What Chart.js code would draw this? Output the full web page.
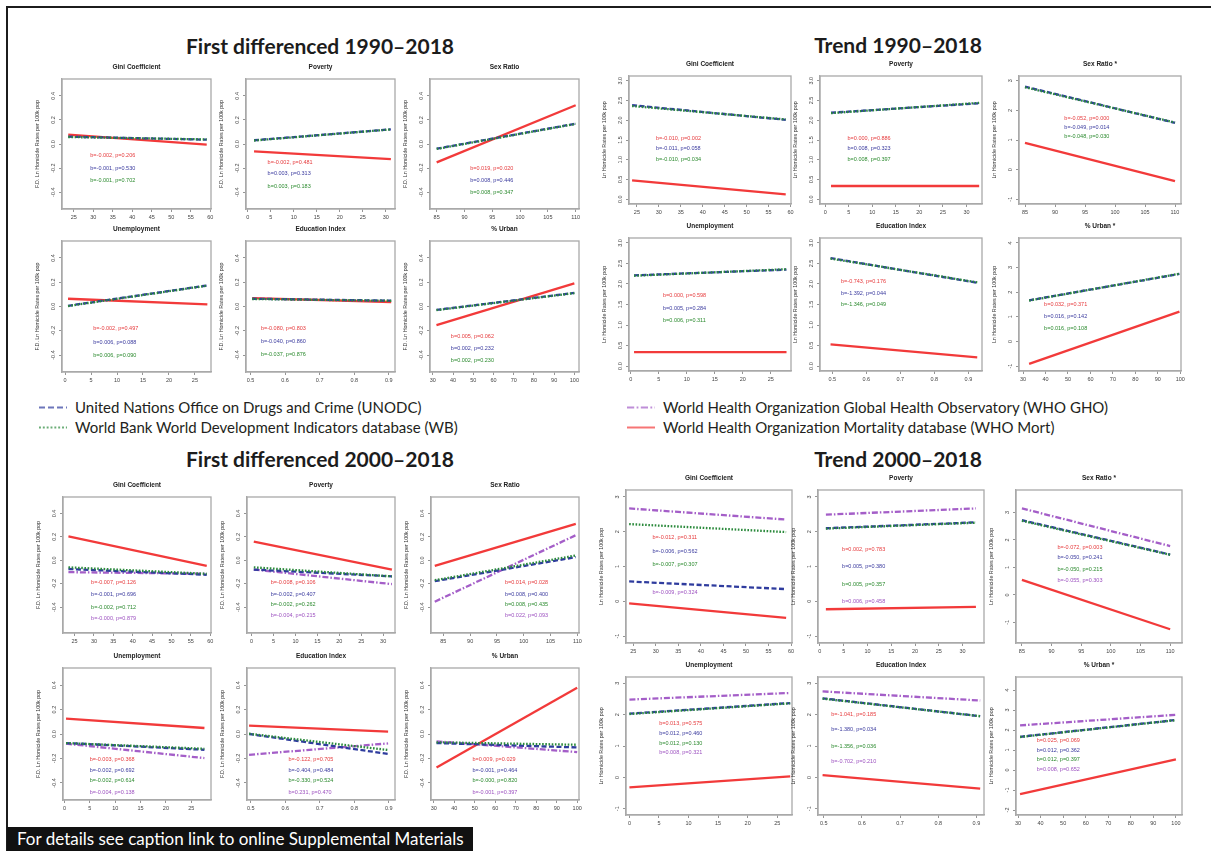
<!DOCTYPE html>
<html>
<head>
<meta charset="utf-8">
<title>Homicide rates and structural indicators</title>
<script src="https://cdn.jsdelivr.net/npm/chart.js@4.4.1/dist/chart.umd.min.js"></script>
<style>
  html, body { margin: 0; padding: 0; background: #fff; }
  #page { position: relative; width: 1211px; height: 851px; overflow: hidden; background: #fff;
          font-family: Lato, 'Open Sans', sans-serif; color: #231f20; }
  .rule { position: absolute; background: #1c1c1c; }
  .qtitle { position: absolute; font-weight: 700; font-size: 21px; white-space: nowrap;
            transform: translate(-50%, -50%); color: #1c1c1c; }
  .leg { position: absolute; font-size: 15px; white-space: nowrap; line-height: 18px; }
  .leg svg { position: absolute; top: 0; }
  canvas.panel { position: absolute; }
  .footer { position: absolute; left: 7px; top: 827px; width: 466px; height: 24px; background: #111;
            color: #fff; font-size: 17px; line-height: 24px; padding-left: 10px; box-sizing: border-box;
            white-space: nowrap; }
</style>
</head>
<body>
<div id="page">
  <div class="rule" style="left:6px;top:6px;width:1205px;height:2px"></div>
  <div class="rule" style="left:6px;top:6px;width:2px;height:845px"></div>
  <div class="footer">For details see caption link to online Supplemental Materials</div>
</div>
<script>
// ---------------------------------------------------------------
// Names and labels
// ---------------------------------------------------------------
const blockTitles = ['First differenced 1990\u20132018', 'Trend 1990\u20132018',
                     'First differenced 2000\u20132018', 'Trend 2000\u20132018'];
const fdTitles    = ['Gini Coefficient', 'Poverty', 'Sex Ratio', 'Unemployment', 'Education Index', '% Urban'];
const trendTitles = ['Gini Coefficient', 'Poverty', 'Sex Ratio *', 'Unemployment', 'Education Index', '% Urban *'];
const fdYTitle    = 'F.D. Ln Homicide Rates per 100k pop';
const trendYTitle = 'Ln Homicide Rates per 100k pop';
const sourceLabels = ['United Nations Office on Drugs and Crime (UNODC)',
                      'World Bank World Development Indicators database (WB)',
                      'World Health Organization Global Health Observatory (WHO GHO)',
                      'World Health Organization Mortality database (WHO Mort)'];

// x-axis tick labels, one set per indicator
const giniTicks         = [25, 30, 35, 40, 45, 50, 55, 60];
const povertyTicks      = [0, 5, 10, 15, 20, 25, 30];
const sexRatioTicks     = [85, 90, 95, 100, 105, 110];
const unemploymentTicks = [0, 5, 10, 15, 20, 25];
const educationTicks    = [0.5, 0.6, 0.7, 0.8, 0.9];
const urbanTicks        = [30, 40, 50, 60, 70, 80, 90, 100];

// y-axis tick labels
const fdYTicks   = [-0.4, -0.2, 0, 0.2, 0.4];
const fdYLabels  = ['-0.4', '-0.2', '0.0', '0.2', '0.4'];
const lnYTicks   = [0, 0.5, 1, 1.5, 2, 2.5, 3];
const lnYLabels  = ['0.0', '0.5', '1.0', '1.5', '2.0', '2.5', '3.0'];
const intYTicksA = [-1, 0, 1, 2, 3];
const intYTicksB = [-1, 0, 1, 2, 3, 4];
const intYTicksC = [-2, -1, 0, 1, 2, 3, 4];

// ---------------------------------------------------------------
// Fitted lines: [value at start of x span, value at end of x span]
// ---------------------------------------------------------------
// First differenced 1990–2018
const fd90Span  = [[23.6, 59.1], [1.35, 31.1], [85, 110], [0.56, 27.4], [0.505, 0.907], [31.8, 100]];
const fd90Mort  = [[0.078, -0.006], [-0.061, -0.125], [-0.153, 0.322], [0.064, 0.017], [0.069, 0.037], [-0.154, 0.190]];
const fd90Unodc = [[0.061, 0.036], [0.031, 0.122], [-0.039, 0.169], [0.006, 0.174], [0.064, 0.048], [-0.028, 0.112]];
const fd90Wb    = [[0.058, 0.038], [0.029, 0.121], [-0.041, 0.167], [0.004, 0.172], [0.062, 0.047], [-0.030, 0.110]];
const fd90MortNotes  = ['b=-0.002, p=0.206', 'b=-0.002, p=0.481', 'b=0.019, p=0.020', 'b=-0.002, p=0.497', 'b=-0.080, p=0.803', 'b=0.005, p=0.062'];
const fd90UnodcNotes = ['b=-0.001, p=0.530', 'b=0.003, p=0.313', 'b=0.008, p=0.446', 'b=0.006, p=0.088', 'b=-0.040, p=0.860', 'b=0.002, p=0.232'];
const fd90WbNotes    = ['b=-0.001, p=0.702', 'b=0.003, p=0.183', 'b=0.008, p=0.347', 'b=0.006, p=0.090', 'b=-0.037, p=0.876', 'b=0.002, p=0.230'];

// Trend 1990–2018
const tr90Span  = [[23.9, 58.9], [1.24, 32.7], [85, 110], [0.6, 27.8], [0.495, 0.926], [32.7, 99.6]];
const tr90Mort  = [[0.48, 0.125], [0.335, 0.335], [0.90, -0.39], [0.34, 0.34], [0.53, 0.21], [-0.91, 1.21]];
const tr90Unodc = [[2.38, 2.01], [2.19, 2.43], [2.80, 1.58], [2.21, 2.35], [2.63, 2.03], [1.67, 2.74]];
const tr90Wb    = [[2.36, 2.02], [2.18, 2.44], [2.78, 1.59], [2.20, 2.36], [2.62, 2.04], [1.66, 2.75]];
const tr90MortNotes  = ['b=-0.010, p=0.002', 'b=0.000, p=0.886', 'b=-0.052, p=0.000', 'b=0.000, p=0.598', 'b=-0.743, p=0.176', 'b=0.032, p=0.371'];
const tr90UnodcNotes = ['b=-0.011, p=0.058', 'b=0.008, p=0.323', 'b=-0.049, p=0.014', 'b=0.005, p=0.284', 'b=-1.392, p=0.044', 'b=0.016, p=0.142'];
const tr90WbNotes    = ['b=-0.010, p=0.034', 'b=0.008, p=0.397', 'b=-0.048, p=0.030', 'b=0.006, p=0.311', 'b=-1.346, p=0.049', 'b=0.016, p=0.108'];

// First differenced 2000–2018
const fd00Span  = [[23.4, 59.1], [0.5, 32], [83.4, 109.7], [0.3, 27.6], [0.495, 0.898], [31.3, 100]];
const fd00Mort  = [[0.205, -0.047], [0.159, -0.079], [-0.047, 0.310], [0.126, 0.049], [0.068, 0.019], [-0.274, 0.378]];
const fd00Unodc = [[-0.074, -0.123], [-0.079, -0.137], [-0.178, 0.027], [-0.074, -0.129], [0.000, -0.163], [-0.074, -0.110]];
const fd00Wb    = [[-0.060, -0.115], [-0.060, -0.137], [-0.170, 0.041], [-0.074, -0.121], [0.002, -0.131], [-0.068, -0.088]];
const fd00Gho   = [[-0.101, -0.115], [-0.079, -0.203], [-0.353, 0.214], [-0.079, -0.197], [-0.170, -0.077], [-0.060, -0.148]];
const fd00MortNotes  = ['b=-0.007, p=0.126', 'b=-0.008, p=0.106', 'b=0.014, p=0.028', 'b=-0.003, p=0.368', 'b=-0.122, p=0.705', 'b=0.009, p=0.029'];
const fd00UnodcNotes = ['b=-0.001, p=0.696', 'b=-0.002, p=0.407', 'b=0.008, p=0.400', 'b=-0.002, p=0.692', 'b=-0.404, p=0.484', 'b=-0.001, p=0.464'];
const fd00WbNotes    = ['b=-0.002, p=0.712', 'b=-0.002, p=0.262', 'b=0.008, p=0.435', 'b=-0.002, p=0.614', 'b=-0.330, p=0.524', 'b=-0.000, p=0.820'];
const fd00GhoNotes   = ['b=-0.000, p=0.879', 'b=-0.004, p=0.215', 'b=0.022, p=0.093', 'b=-0.004, p=0.138', 'b=0.231, p=0.470', 'b=-0.001, p=0.397'];

// Trend 2000–2018
const tr00Span  = [[24.1, 58.9], [1.26, 32.8], [85, 110], [0, 27.2], [0.497, 0.91], [30.9, 100]];
const tr00Mort  = [[-0.06, -0.48], [-0.23, -0.16], [0.55, -1.25], [-0.32, 0.03], [0.07, -0.36], [-1.21, 0.53]];
const tr00Unodc = [[0.57, 0.35], [2.10, 2.27], [2.72, 1.47], [2.03, 2.37], [2.52, 1.95], [1.66, 2.50]];
const tr00Wb    = [[2.22, 1.99], [2.09, 2.26], [2.70, 1.46], [2.02, 2.36], [2.51, 1.95], [1.65, 2.49]];
const tr00Gho   = [[2.67, 2.35], [2.49, 2.67], [3.15, 1.78], [2.48, 2.69], [2.74, 2.45], [2.23, 2.76]];
const tr00MortNotes  = ['b=-0.012, p=0.311', 'b=0.002, p=0.783', 'b=-0.072, p=0.003', 'b=0.013, p=0.575', 'b=-1.041, p=0.185', 'b=0.025, p=0.069'];
const tr00UnodcNotes = ['b=-0.006, p=0.562', 'b=0.005, p=0.380', 'b=-0.050, p=0.241', 'b=0.012, p=0.460', 'b=-1.380, p=0.034', 'b=0.012, p=0.362'];
const tr00WbNotes    = ['b=-0.007, p=0.307', 'b=0.005, p=0.357', 'b=-0.050, p=0.215', 'b=0.012, p=0.130', 'b=-1.356, p=0.036', 'b=0.012, p=0.397'];
const tr00GhoNotes   = ['b=-0.009, p=0.324', 'b=0.006, p=0.458', 'b=-0.055, p=0.303', 'b=0.008, p=0.321', 'b=-0.702, p=0.210', 'b=0.008, p=0.652'];

// ---------------------------------------------------------------
// Axis limits (R-style padded ranges)
// ---------------------------------------------------------------
const xTickSets = [giniTicks, povertyTicks, sexRatioTicks, unemploymentTicks, educationTicks, urbanTicks];
const fd90XLim = [[22, 60.2], [-0.4, 32], [83.8, 110.6], [-0.6, 28.1], [0.487, 0.918], [28.6, 102.3]];
const tr90XLim = [[23.2, 60.1], [-1.1, 33.3], [84, 111], [-0.3, 28.6], [0.464, 0.94], [28.2, 100.3]];
const fd00XLim = [[22, 60.2], [-1.05, 32.7], [82.7, 110.3], [-0.3, 28.9], [0.489, 0.918], [28.6, 100.9]];
const tr00XLim = [[23.4, 60.2], [-0.4, 34.5], [84, 112], [-0.58, 27.5], [0.485, 0.92], [29.1, 102.7]];
const fd90YLim = [[-0.54, 0.54], [-0.54, 0.54], [-0.54, 0.54], [-0.54, 0.54], [-0.54, 0.54], [-0.54, 0.54]];
const fd00YLim = [[-0.62, 0.54], [-0.62, 0.54], [-0.62, 0.54], [-0.54, 0.54], [-0.54, 0.54], [-0.54, 0.54]];
const tr90YLim = [[-0.12, 3.12], [-0.12, 3.12], [-1.16, 3.16], [-0.12, 3.12], [-0.12, 3.12], [-1.2, 4.2]];
const tr00YLim = [[-1.2, 3.2], [-1.2, 3.2], [-1.75, 3.82], [-1.2, 3.2], [-1.2, 3.2], [-2.25, 4.65]];
const fdYTickSets   = [fdYTicks, fdYTicks, fdYTicks, fdYTicks, fdYTicks, fdYTicks];
const fdYLabelSets  = [fdYLabels, fdYLabels, fdYLabels, fdYLabels, fdYLabels, fdYLabels];
const tr90YTickSets = [lnYTicks, lnYTicks, intYTicksA, lnYTicks, lnYTicks, intYTicksB];
const tr90YLabelSets = [lnYLabels, lnYLabels, intYTicksA.map(String), lnYLabels, lnYLabels, intYTicksB.map(String)];
const tr00YTickSets = [intYTicksA, intYTicksA, intYTicksA, intYTicksA, intYTicksA, intYTicksC];
const tr00YLabelSets = tr00YTickSets.map(t => t.map(String));

// ---------------------------------------------------------------
// Styles and layout
// ---------------------------------------------------------------
const PANEL_FONT = "'Liberation Sans', Arial, sans-serif";
Chart.defaults.font.family = PANEL_FONT;

// series order: WHO Mort, UNODC, WB, WHO GHO
const seriesStyle = [
  { color: '#f23a3a', text: '#e63a3c', dash: [],             order: 3 },
  { color: '#2f3c9e', text: '#3a3a9e', dash: [5, 2.5],       order: 2 },
  { color: '#2b8a3c', text: '#2b8a2e', dash: [1.6, 1.6],     order: 1 },
  { color: '#a45ec8', text: '#9d52c0', dash: [6, 2, 1.5, 2], order: 4 }
];

// plot-box geometry of each block (left edges of the three columns, box width, rows as [top, height])
const blockLayout = [
  { cols: [62, 246, 430],   width: 149, rows: [[79, 130], [241, 131]], title: [320, 45] },
  { cols: [629, 820, 1019], width: 162, rows: [[76, 128], [238, 133]], title: [898, 44] },
  { cols: [63, 247, 431],   width: 148, rows: [[497, 136], [668, 132]], title: [320, 458] },
  { cols: [626, 818, 1016], width: 166, rows: [[490, 153], [677, 138]], title: [898, 458] }
];

// where the coefficient notes start inside each plot box (fractions of the box)
const fd90NoteX = [0.19, 0.145, 0.27, 0.21, 0.10, 0.14];
const fd90NoteY = [[.59, .69, .78], [.64, .73, .83], [.69, .78, .87], [.67, .775, .875], [.67, .77, .87], [.73, .82, .91]];
const tr90NoteX = [0.167, 0.17, 0.28, 0.21, 0.13, 0.155];
const tr90NoteY = [[.49, .57, .65], [.49, .57, .65], [.33, .40, .47], [.43, .53, .62], [.33, .42, .50], [.50, .59, .68]];
const fd00NoteX = [0.19, 0.16, 0.50, 0.18, 0.28, 0.28];
const fd00NoteY = [[.63, .72, .81, .89], [.63, .72, .79, .87], [.63, .72, .79, .87], [.69, .78, .85, .94], [.69, .78, .85, .94], [.69, .78, .85, .94]];
const tr00NoteX = [0.16, 0.145, 0.25, 0.20, 0.08, 0.125];
const tr00NoteY = [[.31, .40, .49, .67], [.39, .50, .62, .73], [.375, .44, .52, .59], [.34, .41, .48, .55], [.27, .38, .50, .61], [.46, .53, .60, .67]];

const blocks = [
  { titles: fdTitles, yTitle: fdYTitle, span: fd90Span, series: [fd90Mort, fd90Unodc, fd90Wb],
    notes: [fd90MortNotes, fd90UnodcNotes, fd90WbNotes], xLim: fd90XLim, yLim: fd90YLim,
    yTicks: fdYTickSets, yLabels: fdYLabelSets, noteX: fd90NoteX, noteY: fd90NoteY },
  { titles: trendTitles, yTitle: trendYTitle, span: tr90Span, series: [tr90Mort, tr90Unodc, tr90Wb],
    notes: [tr90MortNotes, tr90UnodcNotes, tr90WbNotes], xLim: tr90XLim, yLim: tr90YLim,
    yTicks: tr90YTickSets, yLabels: tr90YLabelSets, noteX: tr90NoteX, noteY: tr90NoteY },
  { titles: fdTitles, yTitle: fdYTitle, span: fd00Span, series: [fd00Mort, fd00Unodc, fd00Wb, fd00Gho],
    notes: [fd00MortNotes, fd00UnodcNotes, fd00WbNotes, fd00GhoNotes], xLim: fd00XLim, yLim: fd00YLim,
    yTicks: fdYTickSets, yLabels: fdYLabelSets, noteX: fd00NoteX, noteY: fd00NoteY },
  { titles: trendTitles, yTitle: trendYTitle, span: tr00Span, series: [tr00Mort, tr00Unodc, tr00Wb, tr00Gho],
    notes: [tr00MortNotes, tr00UnodcNotes, tr00WbNotes, tr00GhoNotes], xLim: tr00XLim, yLim: tr00YLim,
    yTicks: tr00YTickSets, yLabels: tr00YLabelSets, noteX: tr00NoteX, noteY: tr00NoteY }
];

// ---------------------------------------------------------------
// Plugins
// ---------------------------------------------------------------
const plotFrame = {
  id: 'plotFrame',
  beforeDatasetsDraw(chart) {
    const { ctx, chartArea: a } = chart;
    ctx.save();
    ctx.strokeStyle = '#a9a9a9';
    ctx.lineWidth = 1.3;
    ctx.strokeRect(a.left, a.top, a.right - a.left, a.bottom - a.top);
    ctx.restore();
  }
};

// y tick labels written parallel to the axis
const rotatedYLabels = {
  id: 'rotatedYLabels',
  afterDraw(chart, args, opts) {
    const { ctx, chartArea: a } = chart;
    const y = chart.scales.y;
    ctx.save();
    ctx.fillStyle = '#444';
    ctx.font = '5.5px ' + PANEL_FONT;
    ctx.textAlign = 'center';
    ctx.textBaseline = 'middle';
    opts.values.forEach((v, i) => {
      ctx.save();
      ctx.translate(a.left - 9, y.getPixelForValue(v));
      ctx.rotate(-Math.PI / 2);
      ctx.fillText(opts.labels[i], 0, 0);
      ctx.restore();
    });
    ctx.restore();
  }
};

// regression coefficient notes
const fitNotes = {
  id: 'fitNotes',
  afterDatasetsDraw(chart, args, opts) {
    const { ctx, chartArea: a } = chart;
    ctx.save();
    ctx.font = '5.5px ' + PANEL_FONT;
    ctx.textAlign = 'left';
    ctx.textBaseline = 'middle';
    const x = a.left + opts.x * (a.right - a.left);
    opts.items.forEach(n => {
      ctx.fillStyle = n.color;
      ctx.fillText(n.text, x, a.top + n.y * (a.bottom - a.top));
    });
    ctx.restore();
  }
};

// ---------------------------------------------------------------
// Build the page
// ---------------------------------------------------------------
const page = document.getElementById('page');
const PAD_L = 32, PAD_T = 18, PAD_R = 6, PAD_B = 16;

function makePanel(box, cfg) {
  const canvas = document.createElement('canvas');
  canvas.className = 'panel';
  const w = box.width + PAD_L + PAD_R, h = box.height + PAD_T + PAD_B;
  canvas.width = w; canvas.height = h;
  canvas.style.width = w + 'px'; canvas.style.height = h + 'px';
  canvas.style.left = (box.left - PAD_L) + 'px';
  canvas.style.top = (box.top - PAD_T) + 'px';
  page.appendChild(canvas);

  const axisGrid = { drawOnChartArea: false, drawTicks: true, tickLength: 3, tickColor: '#7a7a7a', tickWidth: 0.8 };
  const axisBorder = { display: true, color: '#a9a9a9', width: 1.3 };

  new Chart(canvas.getContext('2d'), {
    type: 'line',
    data: { datasets: cfg.datasets },
    options: {
      responsive: false, animation: false, devicePixelRatio: 1,
      layout: { padding: { left: 0, right: PAD_R, top: 0, bottom: 0 } },
      elements: { point: { radius: 0 }, line: { tension: 0 } },
      plugins: {
        legend: { display: false },
        tooltip: { enabled: false },
        title: { display: true, fullSize: false, text: cfg.title, color: '#222',
                 font: { size: 6.5, weight: 'bold', lineHeight: 1 }, padding: { top: 3, bottom: 8.5 } },
        rotatedYLabels: { values: cfg.yTicks, labels: cfg.yLabels },
        fitNotes: { x: cfg.noteX, items: cfg.notes }
      },
      scales: {
        x: {
          type: 'linear', min: cfg.xLim[0], max: cfg.xLim[1],
          afterBuildTicks: s => { s.ticks = cfg.xTicks.map(v => ({ value: v })); },
          afterFit: s => { s.height = PAD_B; s.paddingLeft = 0; s.paddingRight = 0; },
          ticks: { autoSkip: false, minRotation: 0, maxRotation: 0, padding: 2, color: '#444',
                   font: { size: 5.5 }, callback: v => String(v) },
          grid: axisGrid, border: axisBorder
        },
        y: {
          type: 'linear', min: cfg.yLim[0], max: cfg.yLim[1],
          afterBuildTicks: s => { s.ticks = cfg.yTicks.map(v => ({ value: v })); },
          afterFit: s => { s.width = PAD_L; s.paddingTop = 0; s.paddingBottom = 0; },
          ticks: { display: false },
          grid: axisGrid, border: axisBorder,
          title: { display: true, text: cfg.yTitle, color: '#333', font: { size: 5.3, lineHeight: 1.2 },
                   padding: { top: 4, bottom: 0 } }
        }
      }
    },
    plugins: [plotFrame, rotatedYLabels, fitNotes]
  });
}

blocks.forEach((blk, b) => {
  const lay = blockLayout[b];
  const t = document.createElement('div');
  t.className = 'qtitle';
  t.textContent = blockTitles[b];
  t.style.left = lay.title[0] + 'px';
  t.style.top = lay.title[1] + 'px';
  page.appendChild(t);

  for (let p = 0; p < 6; p++) {
    const row = Math.floor(p / 3), col = p % 3;
    const box = { left: lay.cols[col], top: lay.rows[row][0], width: lay.width, height: lay.rows[row][1] };
    const xs = blk.span[p];
    const datasets = blk.series.map((s, i) => ({
      data: [{ x: xs[0], y: s[p][0] }, { x: xs[1], y: s[p][1] }],
      borderColor: seriesStyle[i].color,
      borderDash: seriesStyle[i].dash,
      borderWidth: 2.3,
      order: seriesStyle[i].order,
      fill: false
    }));
    const notes = blk.notes.map((n, i) => ({ text: n[p], color: seriesStyle[i].text, y: blk.noteY[p][i] }));
    makePanel(box, {
      title: blk.titles[p], yTitle: blk.yTitle, datasets,
      xLim: blk.xLim[p], xTicks: xTickSets[p], yLim: blk.yLim[p],
      yTicks: blk.yTicks[p], yLabels: blk.yLabels[p],
      noteX: blk.noteX[p], notes
    });
  }
});

// shared legend: UNODC, WB on the left; WHO GHO, WHO Mort on the right
const legendOrder = [1, 2, 3, 0];
const legendPos = [[38, 398], [38, 418], [626, 398], [626, 418]];
legendOrder.forEach((s, k) => {
  const st = seriesStyle[s];
  const item = document.createElement('div');
  item.className = 'leg';
  item.style.left = legendPos[k][0] + 'px';
  item.style.top = legendPos[k][1] + 'px';
  item.style.paddingLeft = '37px';
  const dash = st.dash.length ? st.dash.map(v => v * 1.2).join(' ') : 'none';
  item.innerHTML = '<svg width="30" height="18" style="left:0"><line x1="1" y1="9.5" x2="29" y2="9.5" stroke="' +
    st.color + '" stroke-opacity="0.7" stroke-width="2" stroke-dasharray="' + dash + '"/></svg>';
  item.appendChild(document.createTextNode(sourceLabels[s === 0 ? 3 : s - 1]));
  page.appendChild(item);
});
</script>
</body>
</html>
